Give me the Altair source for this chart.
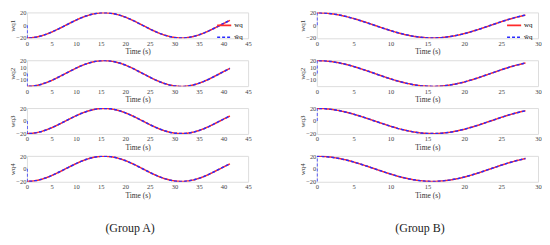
import altair as alt
import pandas as pd

# ---------------- data ----------------
time_a = [0, 1, 2, 3, 4, 5, 6, 7, 8, 9, 10, 11, 12, 13, 14, 15, 16, 17, 18, 19, 20,
          21, 22, 23, 24, 25, 26, 27, 28, 29, 30, 31, 32, 33, 34, 35, 36, 37, 38, 39, 40, 41, 41.3]
wq_a = [-20, -19.6, -18.4, -16.5, -13.9, -10.8, -7.2, -3.4, 0.6, 4.5, 8.3, 11.8, 14.7, 17.1,
        18.8, 19.8, 20.0, 19.3, 17.9, 15.8, 13.1, 9.8, 6.2, 2.2, -1.7, -5.7, -9.4, -12.7,
        -15.5, -17.7, -19.2, -19.9, -19.9, -19.0, -17.4, -15.1, -12.2, -8.8, -5.0, -1.1,
        2.9, 6.8, 7.9]
est_start_a = [0, 0, 0, 0]          # estimate value at t = 0 (panels 1..4)

time_b = [0, 1, 2, 3, 4, 5, 6, 7, 8, 9, 10, 11, 12, 13, 14, 15, 16, 17, 18, 19, 20,
          21, 22, 23, 24, 25, 26, 27, 28, 28.3]
wq_b = [20, 19.6, 18.4, 16.5, 13.9, 10.8, 7.2, 3.4, -0.6, -4.5, -8.3, -11.8, -14.7, -17.1,
        -18.8, -19.8, -20.0, -19.3, -17.9, -15.8, -13.1, -9.8, -6.2, -2.2, 1.7, 5.7, 9.4,
        12.7, 15.5, 16.2]
est_start_b = [0, 0, 0, -20]

y_titles = ["wq1", "wq2", "wq3", "wq4"]
series_names = ["wq", "ŵq"]
x_ticks_a = [0, 5, 10, 15, 20, 25, 30, 35, 40, 45]
x_ticks_b = [0, 5, 10, 15, 20, 25, 30]

FONT = "Liberation Serif"
RED = "#ff2a2a"
BLUE = "#2a2aff"


def make_df(times, values, start):
    rows = []
    for t, v in zip(times, values):
        rows.append({"t": t, "v": v, "s": series_names[0], "o": 0})
    rows.append({"t": 0, "v": start, "s": series_names[1], "o": 0})
    for i, (t, v) in enumerate(zip(times, values)):
        rows.append({"t": t, "v": v, "s": series_names[1], "o": i + 1})
    return pd.DataFrame(rows)


def panel(times, values, start, ytitle, xmax, xticks, yticks, ydomain, legend):
    df = make_df(times, values, start)
    x = alt.X("t:Q", scale=alt.Scale(domain=[0, xmax], nice=False, zero=False),
              axis=alt.Axis(values=xticks, title="Time (s)", grid=False, ticks=False,
                            labelPadding=2, titlePadding=1, labelFontSize=6.5,
                            titleFontSize=7.5, labelFont=FONT, titleFont=FONT,
                            titleFontWeight="normal", domain=False, labelColor="#444",
                            titleColor="#333", labelFlush=False))
    y = alt.Y("v:Q", scale=alt.Scale(domain=ydomain, nice=False, zero=False),
              axis=alt.Axis(values=yticks, title=ytitle, grid=False, ticks=False,
                            labelPadding=1, titlePadding=0, labelFontSize=6.5,
                            titleFontSize=7, labelFont=FONT, titleFont=FONT,
                            titleFontWeight="normal", domain=False, labelColor="#444",
                            titleColor="#333", labelFlush=False))
    if legend:
        color = alt.Color("s:N", scale=alt.Scale(domain=series_names, range=[RED, BLUE]),
                          legend=alt.Legend(orient="top-right", title=None, symbolType="stroke",
                                            symbolSize=200, symbolStrokeWidth=1.6,
                                            labelFont=FONT, labelFontSize=7, rowPadding=0,
                                            padding=0, offset=5, labelOffset=2))
        dash = alt.StrokeDash("s:N", scale=alt.Scale(domain=series_names, range=[[1, 0], [3, 2]]),
                              legend=alt.Legend(orient="top-right", title=None))
    else:
        color = alt.Color("s:N", scale=alt.Scale(domain=series_names, range=[RED, BLUE]), legend=None)
        dash = alt.StrokeDash("s:N", scale=alt.Scale(domain=series_names, range=[[1, 0], [3, 2]]),
                              legend=None)
    chart = alt.Chart(df).mark_line(strokeWidth=1.5, interpolate="linear", clip=True).encode(
        x=x, y=y, color=color, strokeDash=dash, order="o:Q", detail="s:N"
    ).properties(width=222, height=26)
    return chart


def group(times, values, starts, xmax, xticks, label):
    panels = []
    for i in range(4):
        if i == 1:
            yt, yd = [-10, 0, 10, 20], [-19.5, 20.5]
        else:
            yt, yd = [-20, 0, 20], [-20.5, 20.5]
        panels.append(panel(times, values, starts[i], y_titles[i], xmax, xticks, yt, yd, i == 0))
    return alt.vconcat(*panels, spacing=0,
                       title=alt.Title(label, orient="bottom", anchor="middle", font=FONT,
                                       fontSize=12, fontWeight="normal", offset=24, color="#222")
                       ).resolve_scale(color="independent", strokeDash="independent")


ga = group(time_a, wq_a, est_start_a, 45, x_ticks_a, "(Group A)")
gb = group(time_b, wq_b, est_start_b, 30, x_ticks_b, "(Group B)")

chart = alt.hconcat(ga, gb, spacing=46).resolve_scale(
    color="independent", strokeDash="independent"
).properties(padding={"left": 0, "top": 0, "right": 0, "bottom": 0}).configure_view(
    stroke="#888", strokeWidth=0.8
).configure(background="white")

chart.save("out.html", embed_options={"renderer": "svg", "actions": False})
